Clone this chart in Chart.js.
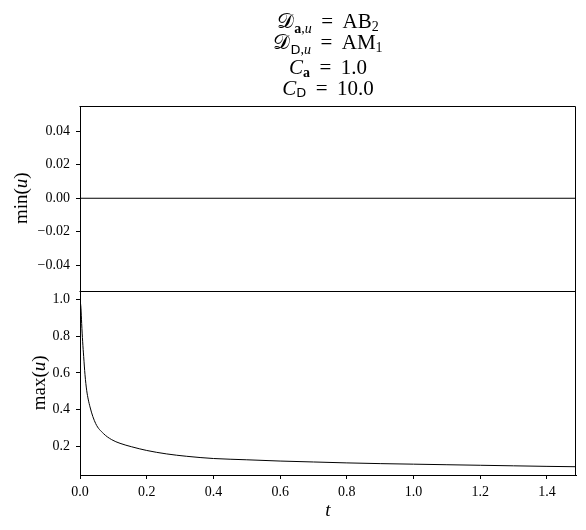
<!DOCTYPE html>
<html><head><meta charset="utf-8">
<script src="https://cdn.jsdelivr.net/npm/chart.js@4/dist/chart.umd.min.js"></script>
<style>html,body{margin:0;padding:0;background:#fff}#wrap{position:relative;width:586px;height:530px}</style>
</head><body><div id="wrap"><canvas id="c" width="586" height="530"></canvas></div>
<script>
// ---- data ----
const tValues = [0, 0.003, 0.005, 0.008, 0.011, 0.015, 0.02, 0.03, 0.047, 0.07, 0.095, 0.12, 0.155, 0.2, 0.26, 0.32, 0.4, 0.5, 0.6, 0.7, 0.8, 0.9, 1.0, 1.1, 1.2, 1.3, 1.4, 1.487];
const maxU    = [1.0, 0.95, 0.87, 0.77, 0.69, 0.59, 0.505, 0.414, 0.323, 0.269, 0.235, 0.215, 0.196, 0.176, 0.157, 0.144, 0.132, 0.125, 0.118, 0.113, 0.108, 0.104, 0.101, 0.098, 0.095, 0.092, 0.089, 0.087];
const minTimes = [0, 1.487];
const minU     = [0, 0];
const xTicks   = [0, 0.2, 0.4, 0.6, 0.8, 1.0, 1.2, 1.4];
const minTicks = [-0.04, -0.02, 0, 0.02, 0.04];
const maxTicks = [0.2, 0.4, 0.6, 0.8, 1.0];

const SERIF = '"Liberation Serif", "Times New Roman", serif';
const F = (s, st) => (st ? st + ' ' : '') + s + 'px ' + SERIF;
const SANS = s => s + 'px "DejaVu Sans", sans-serif';
const CAL = '21px "DejaVu Serif", "DejaVu Sans", "Noto Sans", serif';
const EQ = ' \u2009=\u2009 ';

const titleLines = [
  [{t:'\u{1D49F}', f:CAL}, {t:'a', f:F(14,'bold'), dy:5}, {t:',', f:F(14), dy:5}, {t:'u', f:F(14,'italic'), dy:5}, {t:EQ + 'AB', f:F(21)}, {t:'2', f:F(14), dy:3}],
  [{t:'\u{1D49F}', f:CAL}, {t:'D', f:SANS(13), dy:5}, {t:',', f:F(14), dy:5}, {t:'u', f:F(14,'italic'), dy:5}, {t:EQ + 'AM', f:F(21)}, {t:'1', f:F(14), dy:3}],
  [{t:'C', f:F(21,'italic')}, {t:'a', f:F(14,'bold'), dy:3}, {t:EQ + '1.0', f:F(21)}],
  [{t:'C', f:F(21,'italic')}, {t:'D', f:SANS(13), dy:2}, {t:EQ + '10.0', f:F(21)}]
];
const titleBaselines = [27.5, 48.5, 74, 95];

function drawRuns(ctx, runs, cx, by) {
  let w = 0;
  runs.forEach(r => { ctx.font = r.f; r.w = ctx.measureText(r.t).width; w += r.w; });
  let x = cx - w / 2;
  ctx.textAlign = 'left'; ctx.textBaseline = 'alphabetic';
  runs.forEach(r => { ctx.font = r.f; ctx.fillText(r.t, x, by + (r.dy || 0)); x += r.w; });
}

const decorPlugin = {
  id: 'decor',
  afterDraw(chart) {
    const ctx = chart.ctx, a = chart.chartArea;
    const sMin = chart.scales.yMin, sMax = chart.scales.yMax;
    ctx.save();
    ctx.strokeStyle = '#000'; ctx.lineWidth = 1;
    const top = Math.round(a.top) + 0.5, mid = Math.round(sMin.bottom) + 0.5;
    const right = Math.round(a.right) - 0.5, left = Math.round(a.left) - 0.5;
    ctx.beginPath();
    ctx.moveTo(left, top); ctx.lineTo(right, top);
    ctx.moveTo(left, mid); ctx.lineTo(right, mid);
    ctx.moveTo(right, top); ctx.lineTo(right, Math.round(a.bottom));
    ctx.stroke();
    ctx.fillStyle = '#000';
    const cx = (a.left + a.right) / 2;
    titleLines.forEach((ln, i) => drawRuns(ctx, ln, cx, titleBaselines[i]));
    // axis labels
    const lab = [{t:'min(', f:F(19)}, {t:'u', f:F(19,'italic')}, {t:')', f:F(19)}];
    const labM = [{t:'max(', f:F(19)}, {t:'u', f:F(19,'italic')}, {t:')', f:F(19)}];
    ctx.save(); ctx.translate(26.5, (sMin.top + sMin.bottom) / 2); ctx.rotate(-Math.PI / 2); drawRuns(ctx, lab, 0, 0); ctx.restore();
    ctx.save(); ctx.translate(44.5, (sMax.top + sMax.bottom) / 2); ctx.rotate(-Math.PI / 2); drawRuns(ctx, labM, 0, 0); ctx.restore();
    drawRuns(ctx, [{t:'t', f:F(19,'italic')}], cx, 516);
    ctx.restore();
  }
};

const axisCommon = {
  grid: { drawOnChartArea: false, color: '#000', tickLength: 4, tickWidth: 1 },
  border: { color: '#000', width: 1 },
};
const tickFont = { family: SERIF, size: 14 };

new Chart(document.getElementById('c'), {
  type: 'line',
  data: {
    datasets: [
      { data: minTimes.map((t, i) => ({x: t, y: minU[i]})), yAxisID: 'yMin', borderColor: '#000', borderWidth: 1, pointRadius: 0, fill: false },
      { data: tValues.map((t, i) => ({x: t, y: maxU[i]})), yAxisID: 'yMax', borderColor: '#000', borderWidth: 1, pointRadius: 0, fill: false, cubicInterpolationMode: 'monotone' }
    ]
  },
  options: {
    responsive: false, animation: false, devicePixelRatio: 1,
    layout: { padding: { top: 106, right: 10, left: 0, bottom: 0 } },
    plugins: { legend: { display: false }, tooltip: { enabled: false }, title: { display: false } },
    scales: {
      x: Object.assign({}, axisCommon, {
        type: 'linear', position: 'bottom', min: 0, max: 1.487,
        afterBuildTicks: s => { s.ticks = xTicks.map(v => ({value: v})); },
        afterFit: s => { s.height = 55; },
        ticks: { color: '#000', font: tickFont, padding: 5, maxRotation: 0, autoSkip: false, callback: v => v.toFixed(1) }
      }),
      yMax: Object.assign({}, axisCommon, {
        type: 'linear', position: 'left', stack: 'v', stackWeight: 1, min: 0.0418, max: 1.0505,
        afterBuildTicks: s => { s.ticks = maxTicks.map(v => ({value: v})); },
        afterFit: s => { s.width = 80; },
        ticks: { color: '#000', font: tickFont, padding: 6, autoSkip: false, callback: v => v.toFixed(1) }
      }),
      yMin: Object.assign({}, axisCommon, {
        type: 'linear', position: 'left', stack: 'v', stackWeight: 1, min: -0.055, max: 0.055,
        afterBuildTicks: s => { s.ticks = minTicks.map(v => ({value: v})); },
        afterFit: s => { s.width = 80; },
        ticks: { color: '#000', font: tickFont, padding: 6, autoSkip: false, callback: v => (v < 0 ? '\u2212' : '') + Math.abs(v).toFixed(2) }
      })
    }
  },
  plugins: [decorPlugin]
});
</script>
</body></html>
